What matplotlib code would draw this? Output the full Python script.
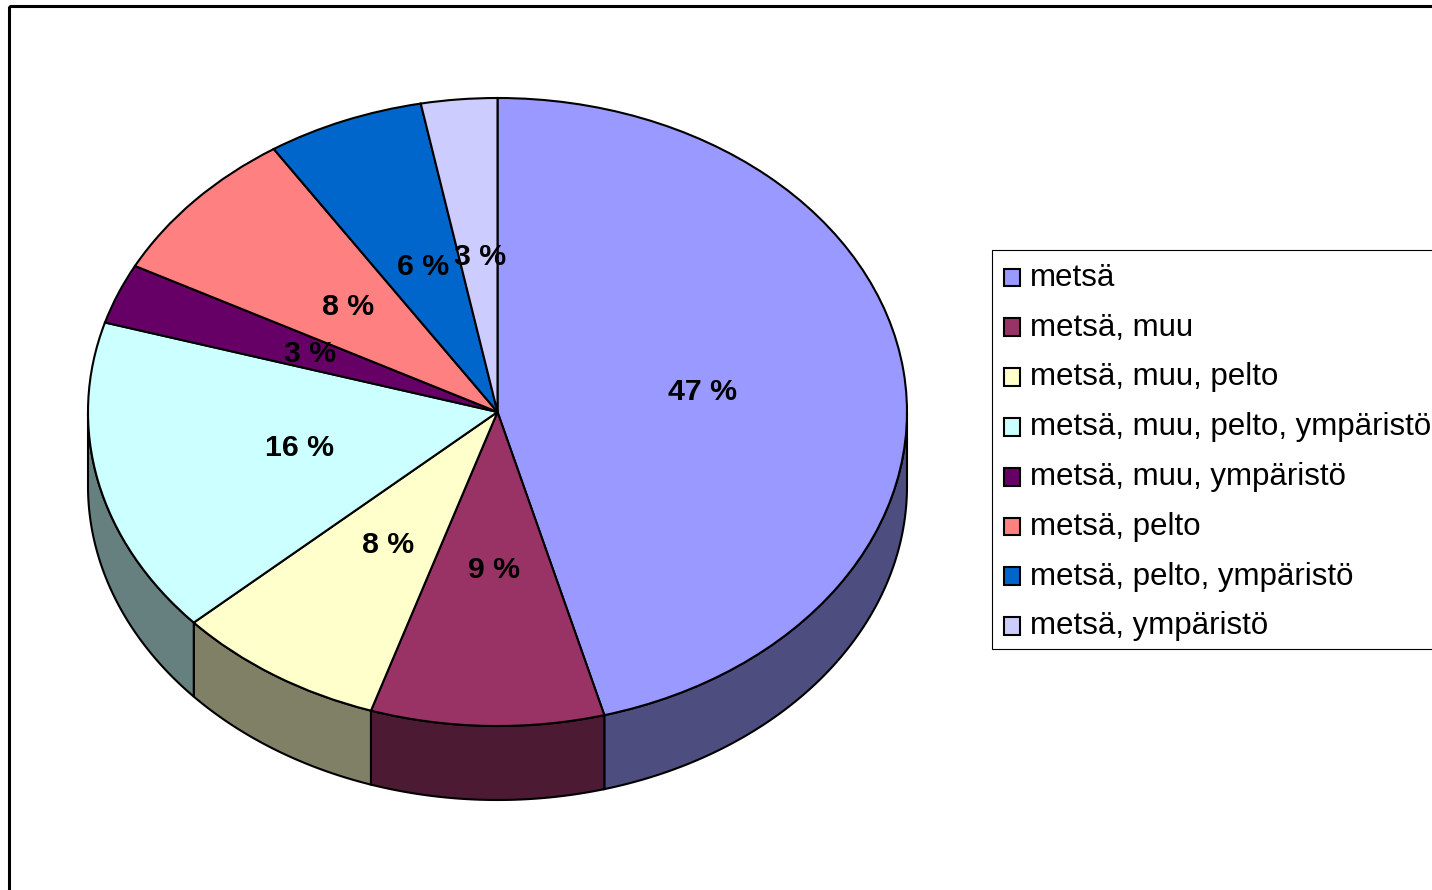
import numpy as np
import matplotlib
matplotlib.use("Agg")
import matplotlib.pyplot as plt
from matplotlib.patches import Rectangle
from matplotlib.legend_handler import HandlerPatch
from matplotlib.transforms import offset_copy

plt.rcParams["font.family"] = ["Liberation Sans", "DejaVu Sans"]

#Datos
categories = ["metsä", "metsä, muu", "metsä, muu, pelto", "metsä, muu, pelto, ympäristö",
              "metsä, muu, ympäristö", "metsä, pelto", "metsä, pelto, ympäristö", "metsä, ympäristö"]
shares = [45.8, 9.2, 8.3, 16.3, 3.1, 8.1, 6.2, 3.0]
pct_labels = ["47 %", "9 %", "8 %", "16 %", "3 %", "8 %", "6 %", "3 %"]
top_colors = ["#9999FF", "#993366", "#FFFFCC", "#CCFFFF", "#660066", "#FF8080", "#0066CC", "#CCCCFF"]
side_colors = ["#4D4D80", "#4D1A33", "#808066", "#668080", "#330033", "#804040", "#003366", "#666680"]

W, H = 1432, 890
fig = plt.figure(figsize=(W / 100, H / 100), dpi=100, facecolor="white")

#Fondo en pixeles: marco y caja de la leyenda
bg = fig.add_axes([0, 0, 1, 1])
bg.set_xlim(0, W)
bg.set_ylim(H, 0)
bg.axis("off")
bg.add_patch(Rectangle((9, 6), W, H, fill=False, edgecolor="black", linewidth=2.2))
bg.add_patch(Rectangle((992, 250), W, 399, fill=False, edgecolor="black", linewidth=0.8))

#Pie: los ejes son el rectangulo de la elipse superior
left, right, top, bottom = 88, 907, 98, 726
ax = fig.add_axes([left / W, 1 - bottom / H, (right - left) / W, (bottom - top) / H])
wedges, texts, autotexts = ax.pie(
    shares, colors=top_colors, startangle=90, counterclock=False, radius=1,
    autopct="%d", pctdistance=0.5,
    wedgeprops={"edgecolor": "black", "linewidth": 1.5, "clip_on": False, "zorder": 3},
)
ax.set_aspect("auto")
ax.set_xlim(-1, 1)
ax.set_ylim(-1, 1)

label_trans = offset_copy(ax.transData, fig=fig, x=2, y=-1, units="dots")
for txt, lab in zip(autotexts, pct_labels):
    txt.set_text(lab)
    txt.set_fontsize(21.8)
    txt.set_fontweight("bold")
    txt.set_color("black")
    txt.set_zorder(5)
    txt.set_transform(label_trans)

#Pared lateral: solo la mitad inferior de la elipse es visible
depth = 74 / ((bottom - top) / 2)
ends = 90 - np.cumsum(shares) * 3.6
starts = np.concatenate(([90], ends[:-1]))
for a0, a1, col in zip(starts, ends, side_colors):
    hi = min(a0, 0)
    lo = max(a1, -180)
    if hi <= lo:
        continue
    t = np.radians(np.linspace(hi, lo, 80))
    x = np.cos(t)
    y = np.sin(t)
    ax.fill(np.concatenate((x, x[::-1])), np.concatenate((y, y[::-1] - depth)),
            facecolor=col, edgecolor="black", linewidth=1.5, clip_on=False, zorder=2)

#Cuadrito de la leyenda un poco mas abajo que el texto
def swatch(legend, orig_handle, xdescent, ydescent, width, height, fontsize):
    return Rectangle((-xdescent, -ydescent - 2.0), width, height)

leg = bg.legend(wedges, categories, loc="upper left", bbox_to_anchor=(992, 251),
                bbox_transform=bg.transData, fontsize=22.5, frameon=False,
                borderaxespad=0, borderpad=0.38,
                labelspacing=0.633, handlelength=0.5, handleheight=0.5, handletextpad=0.34,
                handler_map={w: HandlerPatch(patch_func=swatch) for w in wedges})

fig.savefig("out.png", dpi=100)
